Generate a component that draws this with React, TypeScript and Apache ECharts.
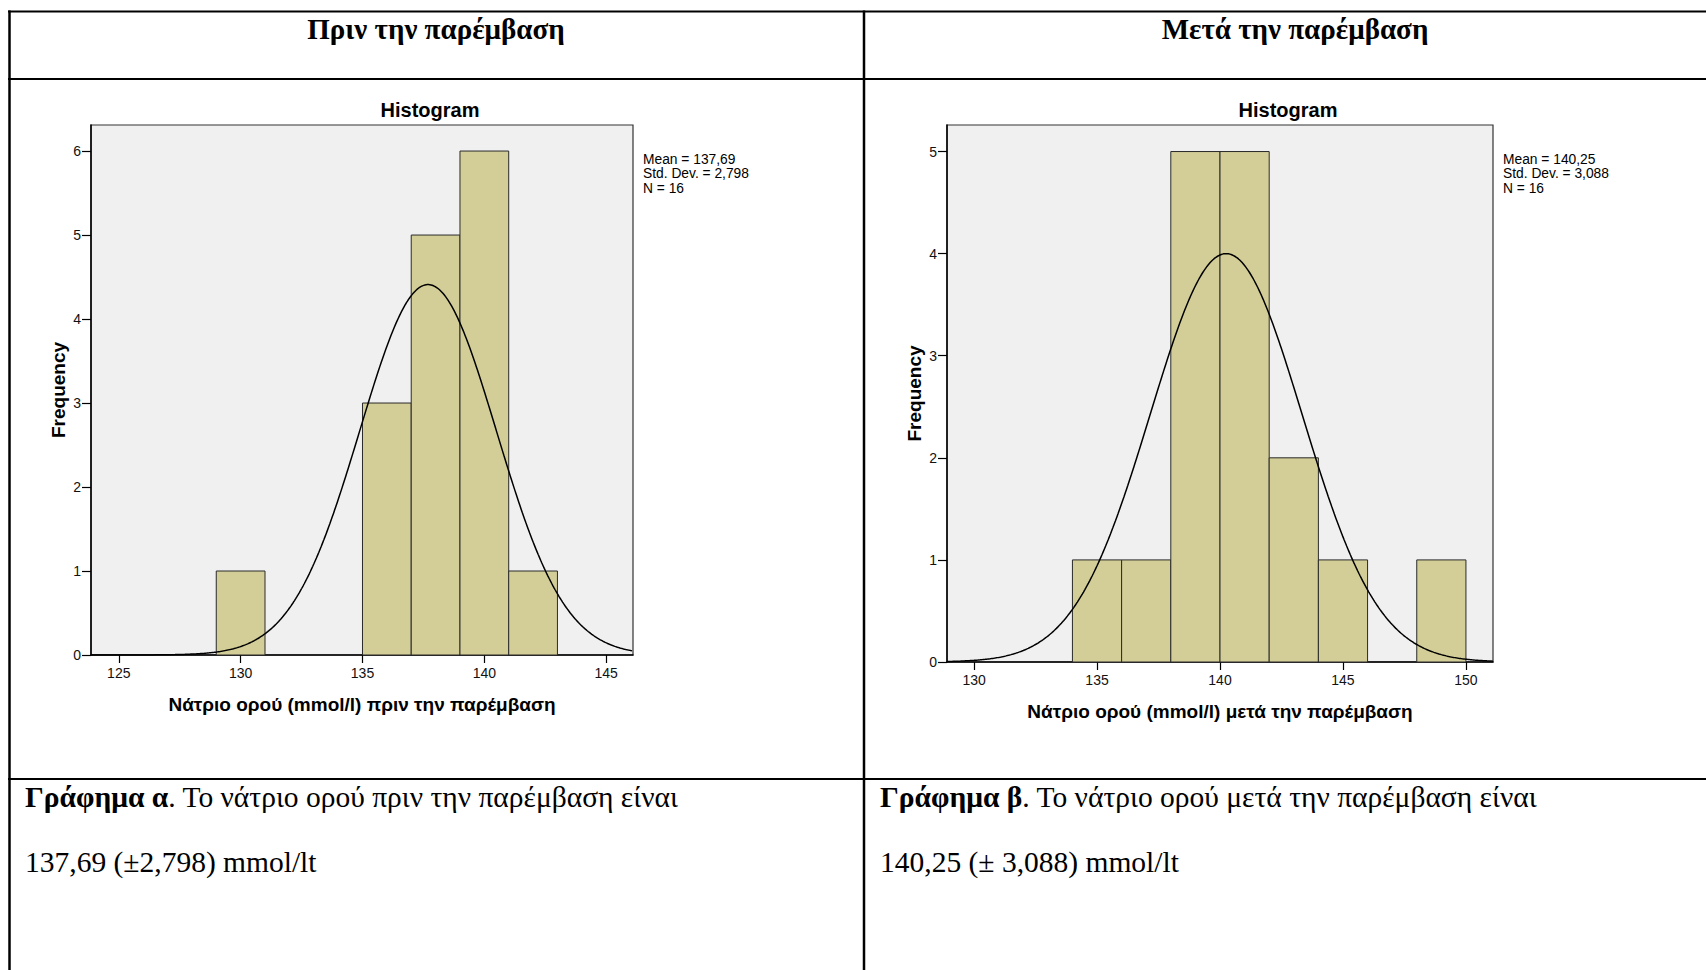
import { useEffect, useRef } from 'react';
import * as echarts from 'echarts';

// Histogram bins: left edge of each bin (bin width 2 mmol/l) and its frequency
const BIN_WIDTH = 2;
const beforeBinStarts = [129, 135, 137, 139, 141];
const beforeCounts = [1, 3, 5, 6, 1];
const afterBinStarts = [134, 136, 138, 140, 142, 144, 148];
const afterCounts = [1, 1, 5, 5, 2, 1, 1];

// Descriptive statistics printed next to each histogram
const beforeMean = 137.69;
const beforeSd = 2.798;
const beforeN = 16;
const afterMean = 140.25;
const afterSd = 3.088;
const afterN = 16;

// Height of the fitted normal curve at the mean
const beforeCurvePeak = 4.41;
const afterCurvePeak = 4.0;

// Axis extents and tick values
const beforeXRange = [123.86, 146.1];
const afterXRange = [128.9, 151.1];
const beforeYMax = 6.31;
const afterYMax = 5.26;
const beforeXTicks = [125, 130, 135, 140, 145];
const afterXTicks = [130, 135, 140, 145, 150];
const beforeYTicks = [0, 1, 2, 3, 4, 5, 6];
const afterYTicks = [0, 1, 2, 3, 4, 5];

// Texts
const headerBefore = 'Πριν την παρέμβαση';
const headerAfter = 'Μετά την παρέμβαση';
const xNameBefore = 'Νάτριο ορού (mmol/l) πριν την παρέμβαση';
const xNameAfter = 'Νάτριο ορού (mmol/l) μετά την παρέμβαση';
const captionBefore = ['{b|Γράφημα α}. Το νάτριο ορού πριν την παρέμβαση είναι', '137,69 (±2,798) mmol/lt'];
const captionAfter = ['{b|Γράφημα β}. Το νάτριο ορού μετά την παρέμβαση είναι', '140,25 (± 3,088) mmol/lt'];

const SANS = 'Liberation Sans, Arial, sans-serif';
const SERIF = 'Liberation Serif, Times New Roman, serif';

const fmt = (v: number, d: number) => v.toFixed(d).replace('.', ',');

function normalCurve(mean: number, sd: number, peak: number, range: number[]) {
  const pts: number[][] = [];
  const step = 0.05;
  for (let x = range[0]; x <= range[1] + 1e-9; x += step) {
    const z = (x - mean) / sd;
    pts.push([x, peak * Math.exp(-0.5 * z * z)]);
  }
  return pts;
}

const renderBin = (_params: any, api: any) => {
  const x0 = api.value(0);
  const x1 = api.value(1);
  const c = api.value(2);
  const a = api.coord([x0, 0]);
  const b = api.coord([x1, c]);
  return {
    type: 'rect',
    shape: { x: a[0], y: b[1], width: b[0] - a[0], height: a[1] - b[1] },
    style: { fill: '#D3CE97', stroke: '#2a2a2a', lineWidth: 1 },
  };
};

function xAxisCfg(gridIndex: number, range: number[], ticks: number[], name: string) {
  return {
    type: 'value',
    gridIndex,
    min: range[0],
    max: range[1],
    name,
    nameLocation: 'middle',
    nameGap: 40,
    nameTextStyle: { fontFamily: SANS, fontWeight: 'bold', fontSize: 19, color: '#000' },
    axisLine: { show: true, onZero: false, lineStyle: { color: '#000', width: 1.5 } },
    axisTick: { show: true, length: 8, customValues: ticks, lineStyle: { color: '#000', width: 1.2 } },
    axisLabel: { customValues: ticks, margin: 11, fontFamily: SANS, fontSize: 14, color: '#111' },
    splitLine: { show: false },
  };
}

function yAxisCfg(gridIndex: number, max: number, ticks: number[]) {
  return {
    type: 'value',
    gridIndex,
    min: 0,
    max,
    name: 'Frequency',
    nameLocation: 'middle',
    nameGap: 23,
    nameTextStyle: { fontFamily: SANS, fontWeight: 'bold', fontSize: 19, color: '#000' },
    axisLine: { show: true, onZero: false, lineStyle: { color: '#000', width: 1.5 } },
    axisTick: { show: true, length: 9, customValues: ticks, lineStyle: { color: '#000', width: 1.2 } },
    axisLabel: { customValues: ticks, margin: 10, fontFamily: SANS, fontSize: 14, color: '#111' },
    splitLine: { show: false },
  };
}

function statsText(mean: number, sd: number, n: number) {
  return `Mean = ${fmt(mean, 2)}\nStd. Dev. = ${fmt(sd, 3)}\nN = ${n}`;
}

export default function App() {
  const ref = useRef<HTMLDivElement>(null);

  useEffect(() => {
    if (!ref.current) return;
    const chart = echarts.init(ref.current, undefined, { renderer: 'svg' });

    const tableLine = (x1: number, y1: number, x2: number, y2: number, w: number) => ({
      type: 'line',
      shape: { x1, y1, x2, y2 },
      style: { stroke: '#000', lineWidth: w },
      z: 100,
    });

    const captionStyle = (text: string) => ({
      text,
      fontFamily: SERIF,
      fontSize: 29.5,
      fill: '#000',
      verticalAlign: 'middle',
      align: 'left',
      rich: { b: { fontFamily: SERIF, fontSize: 29.5, fontWeight: 'bold', fill: '#000' } },
    });

    const headerStyle = (text: string) => ({
      text,
      fontFamily: SERIF,
      fontWeight: 'bold',
      fontSize: 29,
      fill: '#000',
      align: 'center',
      verticalAlign: 'middle',
    });

    const statsStyle = (text: string) => ({
      text,
      fontFamily: SANS,
      fontSize: 13.8,
      lineHeight: 14.5,
      fill: '#000',
      align: 'left',
      verticalAlign: 'top',
    });

    chart.setOption({
      animation: false,
      backgroundColor: '#fff',
      grid: [
        { left: 91, top: 125, width: 542, height: 530, show: true, backgroundColor: '#f0f0f0', borderColor: '#333', borderWidth: 1.2 },
        { left: 947, top: 125, width: 546, height: 537, show: true, backgroundColor: '#f0f0f0', borderColor: '#333', borderWidth: 1.2 },
      ],
      xAxis: [
        xAxisCfg(0, beforeXRange, beforeXTicks, xNameBefore),
        xAxisCfg(1, afterXRange, afterXTicks, xNameAfter),
      ],
      yAxis: [yAxisCfg(0, beforeYMax, beforeYTicks), yAxisCfg(1, afterYMax, afterYTicks)],
      series: [
        {
          type: 'custom',
          xAxisIndex: 0,
          yAxisIndex: 0,
          renderItem: renderBin,
          encode: { x: [0, 1], y: 2 },
          data: beforeBinStarts.map((s, i) => [s, s + BIN_WIDTH, beforeCounts[i]]),
          silent: true,
        },
        {
          type: 'line',
          xAxisIndex: 0,
          yAxisIndex: 0,
          symbol: 'none',
          data: normalCurve(beforeMean, beforeSd, beforeCurvePeak, beforeXRange),
          lineStyle: { color: '#000', width: 1.5 },
          silent: true,
        },
        {
          type: 'custom',
          xAxisIndex: 1,
          yAxisIndex: 1,
          renderItem: renderBin,
          encode: { x: [0, 1], y: 2 },
          data: afterBinStarts.map((s, i) => [s, s + BIN_WIDTH, afterCounts[i]]),
          silent: true,
        },
        {
          type: 'line',
          xAxisIndex: 1,
          yAxisIndex: 1,
          symbol: 'none',
          data: normalCurve(afterMean, afterSd, afterCurvePeak, afterXRange),
          lineStyle: { color: '#000', width: 1.5 },
          silent: true,
        },
      ],
      graphic: [
        // table rules
        tableLine(8, 11.5, 1706, 11.5, 2),
        tableLine(8, 79, 1706, 79, 2),
        tableLine(8, 779, 1706, 779, 2),
        tableLine(9.5, 10.5, 9.5, 970, 2.5),
        tableLine(864, 10.5, 864, 970, 2.5),
        // column headers
        { type: 'text', x: 436, y: 29, style: headerStyle(headerBefore) },
        { type: 'text', x: 1295, y: 29, style: headerStyle(headerAfter) },
        // histogram titles
        {
          type: 'text', x: 430, y: 110,
          style: { text: 'Histogram', fontFamily: SANS, fontWeight: 'bold', fontSize: 20, fill: '#000', align: 'center', verticalAlign: 'middle' },
        },
        {
          type: 'text', x: 1288, y: 110,
          style: { text: 'Histogram', fontFamily: SANS, fontWeight: 'bold', fontSize: 20, fill: '#000', align: 'center', verticalAlign: 'middle' },
        },
        // statistics
        { type: 'text', x: 643, y: 152, style: statsStyle(statsText(beforeMean, beforeSd, beforeN)) },
        { type: 'text', x: 1503, y: 152, style: statsStyle(statsText(afterMean, afterSd, afterN)) },
        // captions
        { type: 'text', x: 25, y: 797, style: captionStyle(captionBefore[0]) },
        { type: 'text', x: 25, y: 862, style: captionStyle(captionBefore[1]) },
        { type: 'text', x: 880, y: 797, style: captionStyle(captionAfter[0]) },
        { type: 'text', x: 880, y: 862, style: captionStyle(captionAfter[1]) },
      ],
    });

    return () => chart.dispose();
  }, []);

  return (
    <div
      ref={ref}
      style={{ position: 'absolute', left: 0, top: 0, width: 1706, height: 970, background: '#fff' }}
    />
  );
}
